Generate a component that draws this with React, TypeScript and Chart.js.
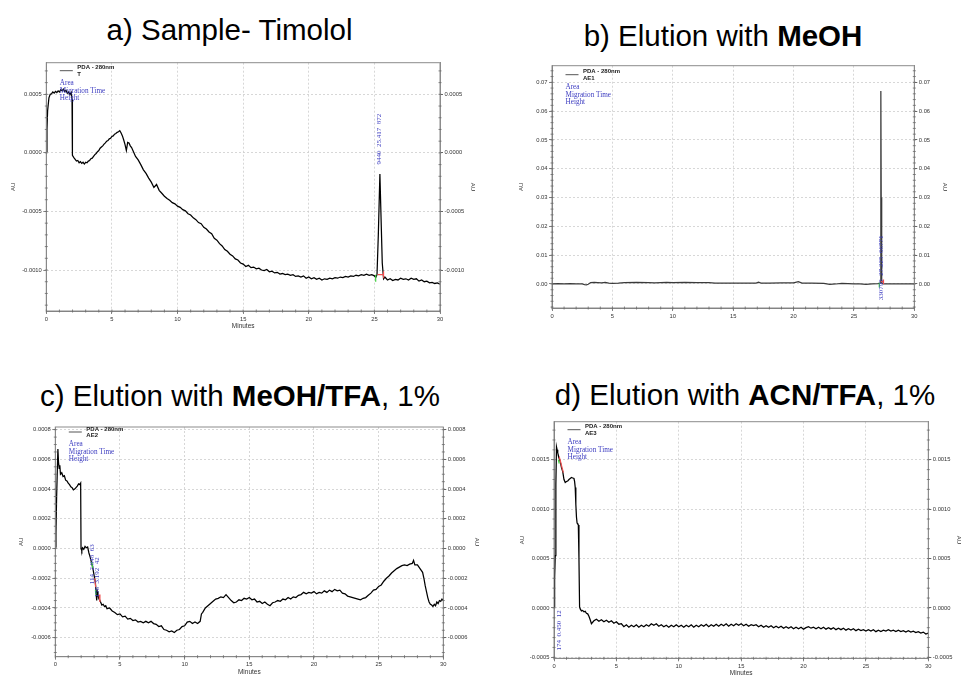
import React, { useEffect, useRef } from "react";
import { Chart, registerables } from "chart.js";

Chart.register(...registerables);
Chart.defaults.font.family = "'Liberation Sans', Arial, sans-serif";

type Pt = [number, number];

// ---------------- DATA ----------------
const minuteTicks = [0, 5, 10, 15, 20, 25, 30];

// a) Sample - Timolol  [minutes, AU]
const traceA: Pt[] = [
  [0, 0.1e-4], [0.05, 2.0e-4], [0.1, 3.6e-4], [0.2, 4.7e-4], [0.3, 5.0e-4], [0.4, 5.05e-4], [0.5, 5.2e-4],
  [0.6, 5.1e-4], [0.7, 5.25e-4], [0.8, 5.15e-4], [0.9, 5.3e-4], [1.0, 5.2e-4], [1.1, 5.4e-4], [1.2, 5.3e-4],
  [1.3, 5.45e-4], [1.4, 5.25e-4], [1.5, 5.35e-4], [1.6, 5.1e-4], [1.7, 5.2e-4], [1.8, 4.95e-4], [1.9, 5.15e-4],
  [1.96, 4.6e-4], [1.99, -0.2e-4], [2.1, -0.4e-4], [2.2, -0.55e-4], [2.3, -0.7e-4], [2.4, -0.65e-4], [2.5, -0.85e-4],
  [2.6, -0.75e-4], [2.7, -0.9e-4], [2.8, -0.8e-4], [2.9, -0.95e-4], [3.0, -0.8e-4], [3.1, -0.85e-4], [3.2, -0.7e-4],
  [3.3, -0.65e-4], [3.4, -0.5e-4], [3.5, -0.45e-4], [3.6, -0.3e-4], [3.7, -0.15e-4], [3.8, -0.05e-4], [3.9, 0.1e-4],
  [4.0, 0.2e-4], [4.1, 0.4e-4], [4.2, 0.5e-4], [4.3, 0.6e-4], [4.4, 0.75e-4], [4.5, 0.85e-4], [4.6, 1.0e-4],
  [4.7, 1.05e-4], [4.8, 1.2e-4], [4.9, 1.25e-4], [5.0, 1.4e-4], [5.1, 1.45e-4], [5.2, 1.6e-4], [5.3, 1.65e-4],
  [5.4, 1.75e-4], [5.5, 1.8e-4], [5.6, 1.9e-4], [5.7, 1.7e-4], [5.8, 1.45e-4], [5.9, 1.1e-4], [6.0, 0.7e-4],
  [6.1, 0.2e-4], [6.2, 0.9e-4], [6.3, 0.85e-4], [6.4, 0.6e-4], [6.5, 0.45e-4], [6.6, 0.2e-4], [6.8, -0.3e-4],
  [7.0, -0.6e-4], [7.2, -1.0e-4], [7.4, -1.45e-4], [7.6, -1.75e-4], [7.8, -2.15e-4], [8.0, -2.5e-4], [8.2, -2.95e-4],
  [8.4, -2.7e-4], [8.6, -3.2e-4], [8.8, -3.45e-4], [9.0, -3.7e-4], [9.2, -3.9e-4], [9.4, -4.05e-4], [9.6, -4.25e-4],
  [9.8, -4.35e-4], [10.0, -4.55e-4], [10.2, -4.65e-4], [10.4, -4.85e-4], [10.6, -4.95e-4], [10.8, -5.2e-4],
  [11.0, -5.3e-4], [11.2, -5.55e-4], [11.4, -5.7e-4], [11.6, -5.95e-4], [11.8, -6.05e-4], [12.0, -6.35e-4],
  [12.2, -6.5e-4], [12.4, -6.75e-4], [12.6, -6.9e-4], [12.8, -7.3e-4], [13.0, -7.45e-4], [13.2, -7.75e-4],
  [13.4, -7.95e-4], [13.6, -8.25e-4], [13.8, -8.4e-4], [14.0, -8.65e-4], [14.2, -8.8e-4], [14.4, -9.05e-4],
  [14.6, -9.15e-4], [14.8, -9.4e-4], [15.0, -9.5e-4], [15.2, -9.7e-4], [15.4, -9.6e-4], [15.6, -9.8e-4],
  [15.8, -9.75e-4], [16.0, -9.9e-4], [16.2, -9.85e-4], [16.4, -10.0e-4], [16.6, -10.05e-4], [16.8, -9.95e-4],
  [17.0, -10.15e-4], [17.2, -10.1e-4], [17.4, -10.25e-4], [17.6, -10.2e-4], [17.8, -10.35e-4], [18.0, -10.3e-4],
  [18.2, -10.4e-4], [18.4, -10.35e-4], [18.6, -10.45e-4], [18.8, -10.4e-4], [19.0, -10.55e-4], [19.2, -10.5e-4],
  [19.4, -10.6e-4], [19.6, -10.5e-4], [19.8, -10.7e-4], [20.0, -10.6e-4], [20.2, -10.75e-4], [20.4, -10.65e-4],
  [20.6, -10.8e-4], [20.8, -10.7e-4], [21.0, -10.85e-4], [21.2, -10.75e-4], [21.4, -10.8e-4], [21.6, -10.7e-4],
  [21.8, -10.75e-4], [22.0, -10.65e-4], [22.2, -10.7e-4], [22.4, -10.6e-4], [22.6, -10.65e-4], [22.8, -10.55e-4],
  [23.0, -10.6e-4], [23.2, -10.5e-4], [23.4, -10.55e-4], [23.6, -10.45e-4], [23.8, -10.5e-4], [24.0, -10.4e-4],
  [24.2, -10.45e-4], [24.4, -10.35e-4], [24.6, -10.45e-4], [24.8, -10.4e-4], [25.0, -10.5e-4], [25.1, -10.65e-4],
  [25.2, -10.4e-4], [25.3, -7.0e-4], [25.42, -1.8e-4], [25.5, -5.2e-4], [25.6, -9.4e-4], [25.7, -10.75e-4],
  [25.8, -10.6e-4], [26.0, -10.85e-4], [26.2, -10.75e-4], [26.4, -10.9e-4], [26.6, -10.8e-4], [26.8, -10.85e-4],
  [27.0, -10.7e-4], [27.2, -10.8e-4], [27.4, -10.75e-4], [27.6, -10.85e-4], [27.8, -10.7e-4], [28.0, -10.8e-4],
  [28.2, -10.75e-4], [28.4, -10.95e-4], [28.6, -10.85e-4], [28.8, -11.0e-4], [29.0, -10.95e-4], [29.2, -11.1e-4],
  [29.4, -11.05e-4], [29.6, -11.15e-4], [29.8, -11.1e-4], [30.0, -11.2e-4],
];
const yTicksA = [-0.001, -0.0005, 0, 0.0005];
const greenA: Pt[] = [[25.1, -10.4e-4], [25.1, -11.0e-4]];
const redA: Pt[] = [[25.25, -10.4e-4], [25.7, -10.4e-4], [25.7, -10.1e-4], [25.7, -10.7e-4]];
const peakTextA = "9440  25.417  872";

// b) Elution with MeOH
const traceB: Pt[] = [
  [0, 0], [0.5, 0.0001], [1, 0], [1.5, 0.0001], [2, 0], [2.5, 0], [2.7, -0.0002], [2.85, -0.0003], [3.0, -0.0001],
  [3.2, 0.0005], [3.5, 0.0006], [3.8, 0.0005], [4.1, 0.0004], [4.4, 0.0006], [4.7, 0.0003], [5.0, 0.0002],
  [5.5, 0.0003], [6, 0.0005], [7, 0.0006], [8, 0.0005], [8.5, 0.0004], [9, 0.0005], [9.5, 0.0006], [10, 0.0005],
  [11, 0.0006], [12, 0.0005], [13, 0.0005], [13.5, 0.0003], [14, 0.0003], [15, 0.0003], [16, 0.0003],
  [16.9, 0.0003], [17.1, 0.0006], [17.3, 0.0003], [18, 0.0003], [19, 0.0004], [20, 0.0004], [20.4, 0.0008],
  [20.7, 0.0003], [21.5, 0.0003], [22.5, 0.0002], [23, -0.0001], [23.5, 0.0], [24, 0.0002], [24.5, 0.0001],
  [25, 0.0], [25.5, 0.0], [26, -0.0001], [26.5, 0.0], [27.0, 0.0001], [27.18, 0.0003], [27.22, 0.03],
  [27.24, 0.067], [27.26, 0.03], [27.3, 0.0006], [27.4, 0.0], [28, 0.0], [29, 0.0], [30, 0.0],
];
const yTicksB = [0, 0.01, 0.02, 0.03, 0.04, 0.05, 0.06, 0.07];
const greenB: Pt[] = [[27.1, 0.0004], [27.1, -0.0012]];
const redB: Pt[] = [[27.25, 0.0008], [27.45, 0.0008], [27.45, 0.0016], [27.45, 0.0]];
const peakTextB = "330795  27.225  66771";

// c) Elution with MeOH/TFA, 1%
const traceC: Pt[] = [
  [0, 0.1e-4], [0.05, 1.0e-4], [0.1, 3.4e-4], [0.2, 6.7e-4], [0.25, 5.8e-4], [0.3, 5.4e-4], [0.35, 5.6e-4],
  [0.4, 5.0e-4], [0.5, 5.1e-4], [0.6, 4.85e-4], [0.7, 4.9e-4], [0.8, 4.6e-4], [0.9, 4.55e-4], [1.0, 4.4e-4],
  [1.1, 4.3e-4], [1.2, 4.15e-4], [1.3, 4.1e-4], [1.4, 3.95e-4], [1.5, 4.0e-4], [1.6, 4.1e-4], [1.7, 4.2e-4],
  [1.8, 4.35e-4], [1.9, 4.3e-4], [1.96, 4.4e-4], [1.99, 0.0], [2.05, -0.15e-4], [2.1, 0.05e-4], [2.2, -0.05e-4],
  [2.3, 0.15e-4], [2.4, 0.05e-4], [2.5, 0.1e-4], [2.6, -0.3e-4], [2.7, -0.6e-4], [2.8, -0.95e-4], [2.9, -1.3e-4],
  [3.0, -1.8e-4], [3.1, -2.3e-4], [3.15, -2.9e-4], [3.2, -3.5e-4], [3.25, -2.9e-4], [3.3, -3.1e-4], [3.4, -3.4e-4],
  [3.5, -3.6e-4], [3.6, -3.8e-4], [3.7, -3.75e-4], [3.8, -3.9e-4], [3.9, -3.85e-4], [4.0, -4.05e-4], [4.2, -4.0e-4],
  [4.4, -4.2e-4], [4.6, -4.3e-4], [4.8, -4.45e-4], [5.0, -4.4e-4], [5.2, -4.6e-4], [5.4, -4.55e-4], [5.6, -4.75e-4],
  [5.8, -4.7e-4], [6.0, -4.85e-4], [6.2, -4.8e-4], [6.4, -4.95e-4], [6.6, -4.9e-4], [6.8, -5.0e-4], [7.0, -4.9e-4],
  [7.2, -5.0e-4], [7.4, -4.9e-4], [7.6, -5.05e-4], [7.8, -5.1e-4], [8.0, -5.25e-4], [8.2, -5.2e-4], [8.4, -5.45e-4],
  [8.6, -5.5e-4], [8.8, -5.6e-4], [9.0, -5.55e-4], [9.2, -5.65e-4], [9.4, -5.5e-4], [9.6, -5.45e-4], [9.8, -5.25e-4],
  [10.0, -5.2e-4], [10.2, -4.95e-4], [10.4, -4.9e-4], [10.6, -5.05e-4], [10.8, -4.95e-4], [11.0, -5.05e-4],
  [11.2, -4.9e-4], [11.3, -4.4e-4], [11.4, -4.3e-4], [11.6, -4.0e-4], [11.8, -3.85e-4], [12.0, -3.7e-4],
  [12.2, -3.55e-4], [12.4, -3.4e-4], [12.6, -3.35e-4], [12.8, -3.25e-4], [13.0, -3.3e-4], [13.2, -3.1e-4],
  [13.4, -3.3e-4], [13.6, -3.5e-4], [13.8, -3.65e-4], [14.0, -3.6e-4], [14.2, -3.45e-4], [14.4, -3.5e-4],
  [14.6, -3.35e-4], [14.8, -3.4e-4], [15.0, -3.3e-4], [15.2, -3.45e-4], [15.4, -3.4e-4], [15.6, -3.6e-4],
  [15.8, -3.55e-4], [16.0, -3.7e-4], [16.2, -3.6e-4], [16.4, -3.75e-4], [16.6, -3.85e-4], [16.8, -3.65e-4],
  [17.0, -3.6e-4], [17.2, -3.5e-4], [17.4, -3.55e-4], [17.6, -3.4e-4], [17.8, -3.45e-4], [18.0, -3.3e-4],
  [18.2, -3.4e-4], [18.4, -3.25e-4], [18.6, -3.3e-4], [18.8, -3.15e-4], [19.0, -3.1e-4], [19.2, -2.95e-4],
  [19.4, -3.05e-4], [19.6, -2.95e-4], [19.8, -3.0e-4], [20.0, -2.9e-4], [20.2, -3.05e-4], [20.4, -2.95e-4],
  [20.6, -3.0e-4], [20.8, -2.85e-4], [21.0, -2.95e-4], [21.2, -2.8e-4], [21.4, -2.9e-4], [21.6, -2.75e-4],
  [21.8, -2.85e-4], [22.0, -2.8e-4], [22.2, -3.0e-4], [22.4, -3.05e-4], [22.6, -3.2e-4], [22.8, -3.25e-4],
  [23.0, -3.3e-4], [23.2, -3.35e-4], [23.4, -3.4e-4], [23.6, -3.45e-4], [23.8, -3.35e-4], [24.0, -3.3e-4],
  [24.2, -3.15e-4], [24.4, -3.0e-4], [24.6, -2.8e-4], [24.8, -2.75e-4], [25.0, -2.55e-4], [25.2, -2.45e-4],
  [25.4, -2.2e-4], [25.6, -2.0e-4], [25.8, -1.85e-4], [26.0, -1.65e-4], [26.2, -1.5e-4], [26.4, -1.35e-4],
  [26.6, -1.25e-4], [26.8, -1.15e-4], [27.0, -1.1e-4], [27.2, -1.15e-4], [27.4, -1.05e-4], [27.6, -1.0e-4],
  [27.7, -0.8e-4], [27.8, -1.1e-4], [28.0, -1.1e-4], [28.2, -1.35e-4], [28.4, -1.6e-4], [28.5, -2.0e-4],
  [28.6, -2.5e-4], [28.7, -2.9e-4], [28.8, -3.3e-4], [28.9, -3.6e-4], [29.0, -3.75e-4], [29.1, -3.8e-4],
  [29.2, -3.9e-4], [29.3, -3.75e-4], [29.4, -3.85e-4], [29.5, -3.6e-4], [29.6, -3.7e-4], [29.7, -3.5e-4],
  [29.8, -3.55e-4], [29.9, -3.4e-4], [30.0, -3.5e-4],
];
const yTicksC = [-0.0006, -0.0004, -0.0002, 0, 0.0002, 0.0004, 0.0006, 0.0008];
const greenC1: Pt[] = [[2.8, -0.9e-4], [2.9, -1.3e-4]];
const redC1: Pt[] = [[3.05, -2.0e-4], [3.12, -2.6e-4]];
const greenC2: Pt[] = [[3.1, -2.8e-4], [3.15, -3.1e-4]];
const redC2: Pt[] = [[3.38, -3.1e-4], [3.45, -3.6e-4]];
const peakTextC1 = "114  2.848  63";
const peakTextC2 = "156  3.192  42";

// d) Elution with ACN/TFA, 1%
const traceD: Pt[] = [
  [0, 0.1e-4], [0.05, 3.0e-4], [0.1, 5.3e-4], [0.15, 12.5e-4], [0.2, 16.3e-4], [0.25, 16.0e-4], [0.3, 15.7e-4],
  [0.4, 15.2e-4], [0.5, 14.8e-4], [0.6, 14.2e-4], [0.7, 13.8e-4], [0.8, 13.0e-4], [0.9, 12.7e-4], [1.0, 12.8e-4],
  [1.1, 12.85e-4], [1.2, 13.0e-4], [1.3, 13.1e-4], [1.4, 13.2e-4], [1.5, 13.15e-4], [1.6, 13.1e-4], [1.65, 12.8e-4],
  [1.7, 12.2e-4], [1.75, 10.5e-4], [1.8, 9.2e-4], [1.85, 8.6e-4], [1.9, 8.5e-4], [1.95, 8.4e-4], [2.0, 5.0e-4],
  [2.05, 0.1e-4], [2.1, -0.1e-4], [2.2, -0.3e-4], [2.3, -0.25e-4], [2.4, -0.4e-4], [2.5, -0.35e-4], [2.6, -0.55e-4],
  [2.7, -0.6e-4], [2.8, -0.85e-4], [2.9, -1.2e-4], [3.0, -1.6e-4], [3.2, -1.3e-4], [3.4, -1.15e-4], [3.6, -1.35e-4],
  [3.8, -1.2e-4], [4.0, -1.4e-4], [4.2, -1.25e-4], [4.4, -1.45e-4], [4.6, -1.3e-4], [4.8, -1.55e-4], [5.0, -1.4e-4],
  [5.2, -1.65e-4], [5.4, -1.6e-4], [5.6, -1.9e-4], [5.8, -1.7e-4], [6.0, -1.95e-4], [6.2, -1.75e-4], [6.4, -1.9e-4],
  [6.6, -1.7e-4], [6.8, -1.95e-4], [7.0, -1.75e-4], [7.2, -1.9e-4], [7.4, -1.7e-4], [7.6, -1.85e-4], [7.8, -1.6e-4],
  [8.0, -1.75e-4], [8.2, -1.6e-4], [8.4, -1.85e-4], [8.6, -1.7e-4], [8.8, -1.9e-4], [9.0, -1.75e-4], [9.2, -1.95e-4],
  [9.4, -1.75e-4], [9.6, -1.9e-4], [9.8, -1.7e-4], [10.0, -1.9e-4], [10.2, -1.75e-4], [10.4, -1.95e-4],
  [10.6, -1.75e-4], [10.8, -1.9e-4], [11.0, -1.7e-4], [11.2, -1.95e-4], [11.4, -1.75e-4], [11.6, -1.9e-4],
  [11.8, -1.7e-4], [12.0, -1.85e-4], [12.2, -1.65e-4], [12.4, -1.9e-4], [12.6, -1.7e-4], [12.8, -1.85e-4],
  [13.0, -1.65e-4], [13.2, -1.85e-4], [13.4, -1.65e-4], [13.6, -1.8e-4], [13.8, -1.6e-4], [14.0, -1.85e-4],
  [14.2, -1.65e-4], [14.4, -1.8e-4], [14.6, -1.6e-4], [14.8, -1.75e-4], [15.0, -1.6e-4], [15.2, -1.8e-4],
  [15.4, -1.65e-4], [15.6, -1.85e-4], [15.8, -1.7e-4], [16.0, -1.8e-4], [16.2, -1.7e-4], [16.4, -1.9e-4],
  [16.6, -1.75e-4], [16.8, -1.95e-4], [17.0, -1.8e-4], [17.2, -1.95e-4], [17.4, -1.8e-4], [17.6, -2.0e-4],
  [17.8, -1.85e-4], [18.0, -2.0e-4], [18.2, -1.85e-4], [18.4, -2.05e-4], [18.6, -1.9e-4], [18.8, -2.05e-4],
  [19.0, -1.9e-4], [19.2, -2.1e-4], [19.4, -1.95e-4], [19.6, -2.1e-4], [19.8, -1.95e-4], [20.0, -2.15e-4],
  [20.2, -2.0e-4], [20.4, -1.9e-4], [20.6, -2.05e-4], [20.8, -1.95e-4], [21.0, -2.1e-4], [21.2, -1.95e-4],
  [21.4, -2.1e-4], [21.6, -1.95e-4], [21.8, -2.15e-4], [22.0, -2.0e-4], [22.2, -2.15e-4], [22.4, -2.0e-4],
  [22.6, -2.2e-4], [22.8, -2.05e-4], [23.0, -2.2e-4], [23.2, -2.05e-4], [23.4, -2.25e-4], [23.6, -2.1e-4],
  [23.8, -2.25e-4], [24.0, -2.1e-4], [24.2, -2.3e-4], [24.4, -2.15e-4], [24.6, -2.3e-4], [24.8, -2.2e-4],
  [25.0, -2.35e-4], [25.2, -2.2e-4], [25.4, -2.35e-4], [25.6, -2.2e-4], [25.8, -2.4e-4], [26.0, -2.25e-4],
  [26.2, -2.4e-4], [26.4, -2.25e-4], [26.6, -2.35e-4], [26.8, -2.2e-4], [27.0, -2.35e-4], [27.2, -2.25e-4],
  [27.4, -2.4e-4], [27.6, -2.25e-4], [27.8, -2.4e-4], [28.0, -2.3e-4], [28.2, -2.45e-4], [28.4, -2.3e-4],
  [28.6, -2.45e-4], [28.8, -2.35e-4], [29.0, -2.5e-4], [29.2, -2.4e-4], [29.4, -2.55e-4], [29.6, -2.45e-4],
  [29.8, -2.65e-4], [30.0, -2.55e-4],
];
const yTicksD = [-0.0005, 0, 0.0005, 0.001, 0.0015];
const greenD: Pt[] = [[0.35, 15.0e-4], [0.42, 14.6e-4]];
const redD: Pt[] = [[0.42, 15.3e-4], [0.75, 13.7e-4]];
const peakTextD = "174  0.450  12";

const titles = {
  a: ["a) Sample- Timolol", ""],
  b: ["b) Elution with ", "MeOH", ""],
  c: ["c) Elution with ", "MeOH/TFA", ", 1%"],
  d: ["d) Elution with ", "ACN/TFA", ", 1%"],
};

// ---------------- LAYOUT / STYLE ----------------
type Marker = { color: string; pts: Pt[] };
type Peak = { t: number; v: number; text: string };
type PanelCfg = {
  left: number; top: number; width: number; height: number;
  padTop: number; leftW: number; rightW: number; bottomH: number;
  yMin: number; yMax: number; yTicks: number[]; decimals: number; minorY: number;
  auLeftPad: number; auRightPad: number; showMinutes: boolean; minutesPad: number;
  legendDy: number; seriesId: string; trace: Pt[]; lineColor: string;
  markers: Marker[]; peaks: Peak[];
};

const GREEN = "#3fd23f";
const RED = "#f05050";

const panels: PanelCfg[] = [
  {
    left: 0, top: 55, width: 480, height: 280, padTop: 7.7, leftW: 46.3, rightW: 40, bottomH: 24,
    yMin: -0.00135, yMax: 0.00077, yTicks: yTicksA, decimals: 4, minorY: 0.0001,
    auLeftPad: 9.4, auRightPad: 3.4, showMinutes: true, minutesPad: 4.4, legendDy: 0,
    seriesId: "T", trace: traceA, lineColor: "#000",
    markers: [{ color: GREEN, pts: greenA }, { color: RED, pts: redA }],
    peaks: [{ t: 25.36, v: -0.0001, text: peakTextA }],
  },
  {
    left: 490, top: 55, width: 472, height: 270, padTop: 10.7, leftW: 62, rightW: 47.7, bottomH: 17,
    yMin: -0.00833, yMax: 0.07576, yTicks: yTicksB, decimals: 2, minorY: 0.002,
    auLeftPad: 28, auRightPad: 13.4, showMinutes: false, minutesPad: 0, legendDy: 1,
    seriesId: "AE1", trace: traceB, lineColor: "#3a3a3a",
    markers: [{ color: GREEN, pts: greenB }, { color: RED, pts: redB }],
    peaks: [{ t: 27.24, v: -0.0056, text: peakTextB }],
  },
  {
    left: 0, top: 420, width: 482, height: 258, padTop: 7, leftW: 55.3, rightW: 38.7, bottomH: 21.3,
    yMin: -0.000728, yMax: 0.000818, yTicks: yTicksC, decimals: 4, minorY: 0.00005,
    auLeftPad: 18, auRightPad: 1.4, showMinutes: true, minutesPad: 1.4, legendDy: -3,
    seriesId: "AE2", trace: traceC, lineColor: "#000",
    markers: [
      { color: GREEN, pts: greenC1 }, { color: RED, pts: redC1 },
      { color: GREEN, pts: greenC2 }, { color: RED, pts: redC2 },
    ],
    peaks: [
      { t: 2.84, v: -0.00024, text: peakTextC1 },
      { t: 3.22, v: -0.00033, text: peakTextC2 },
    ],
  },
  {
    left: 490, top: 415, width: 472, height: 263, padTop: 6.7, leftW: 64, rightW: 33.7, bottomH: 19.7,
    yMin: -0.00051, yMax: 0.001885, yTicks: yTicksD, decimals: 4, minorY: 0.0001,
    auLeftPad: 28.4, auRightPad: 0, showMinutes: true, minutesPad: 0.4, legendDy: 0,
    seriesId: "AE3", trace: traceD, lineColor: "#000",
    markers: [{ color: GREEN, pts: greenD }, { color: RED, pts: redD }],
    peaks: [{ t: 0.4, v: -0.00043, text: peakTextD }],
  },
];

const TICK_FONT = 5.8;
const ANNOT_BLUE = "#3c3cc0";

function makeDecor(c: PanelCfg) {
  return {
    id: "decor",
    afterDatasetsDraw(chart: any) {
      const { ctx, chartArea: a, scales } = chart;
      const xs = scales.x;
      const ys = scales.y;
      ctx.save();
      // frame
      ctx.strokeStyle = "#8c8c8c";
      ctx.lineWidth = 1;
      ctx.setLineDash([]);
      ctx.strokeRect(a.left, a.top, a.right - a.left, a.bottom - a.top);
      // minor ticks
      ctx.strokeStyle = "#6a6a6a";
      ctx.lineWidth = 0.8;
      ctx.beginPath();
      const k0 = Math.ceil(c.yMin / c.minorY - 1e-6);
      const k1 = Math.floor(c.yMax / c.minorY + 1e-6);
      for (let k = k0; k <= k1; k++) {
        const y = ys.getPixelForValue(k * c.minorY);
        ctx.moveTo(a.left - 1.5, y); ctx.lineTo(a.left + 1.5, y);
        ctx.moveTo(a.right - 1.5, y); ctx.lineTo(a.right + 1.5, y);
      }
      for (let m = 0; m <= 30; m++) {
        const x = xs.getPixelForValue(m);
        ctx.moveTo(x, a.bottom - 1.5); ctx.lineTo(x, a.bottom + 1.5);
      }
      ctx.stroke();
      // legend
      const lx = a.left, ly = a.top + c.legendDy;
      ctx.strokeStyle = "#555";
      ctx.lineWidth = 1;
      ctx.beginPath();
      ctx.moveTo(lx + 13.5, ly + 8); ctx.lineTo(lx + 26.5, ly + 8);
      ctx.stroke();
      ctx.fillStyle = "#222";
      ctx.font = "bold 6px 'Liberation Sans', Arial, sans-serif";
      ctx.textAlign = "left";
      ctx.textBaseline = "middle";
      ctx.fillText("PDA - 280nm", lx + 31, ly + 5);
      ctx.fillText(c.seriesId, lx + 31, ly + 11.5);
      ctx.fillStyle = ANNOT_BLUE;
      ctx.font = "7.2px 'Liberation Serif', 'Times New Roman', serif";
      ctx.fillText("Area", lx + 13.5, ly + 20);
      ctx.fillText("Migration Time", lx + 13.5, ly + 28);
      ctx.fillText("Height", lx + 13.5, ly + 35.5);
      // peak labels (vertical)
      ctx.font = "7px 'Liberation Serif', 'Times New Roman', serif";
      for (const p of c.peaks) {
        const x = xs.getPixelForValue(p.t);
        const y = ys.getPixelForValue(p.v);
        ctx.save();
        ctx.translate(x, y);
        ctx.rotate(-Math.PI / 2);
        ctx.textAlign = "left";
        ctx.textBaseline = "middle";
        ctx.fillText(p.text, 0, 0);
        ctx.restore();
      }
      ctx.restore();
    },
  };
}

function Panel({ c }: { c: PanelCfg }) {
  const ref = useRef<HTMLCanvasElement | null>(null);
  useEffect(() => {
    if (!ref.current) return;
    const datasets: any[] = [
      {
        data: c.trace.map(([x, y]) => ({ x, y })),
        borderColor: c.lineColor,
        borderWidth: 1.25,
        pointRadius: 0,
        tension: 0,
        xAxisID: "x",
        yAxisID: "y",
        order: 2,
      },
      ...c.markers.map((m) => ({
        data: m.pts.map(([x, y]) => ({ x, y })),
        borderColor: m.color,
        borderWidth: 1.2,
        pointRadius: 0,
        tension: 0,
        xAxisID: "x",
        yAxisID: "y",
        order: 1,
      })),
    ];
    const yTickCfg = {
      font: { size: TICK_FONT },
      color: "#333",
      padding: 1.5,
      autoSkip: false,
      callback: (v: any) => Number(v).toFixed(c.decimals),
    };
    const setYTicks = (s: any) => {
      s.ticks = c.yTicks.map((v) => ({ value: v }));
    };
    const chart = new Chart(ref.current, {
      type: "line",
      data: { datasets },
      options: {
        animation: false,
        responsive: false,
        maintainAspectRatio: false,
        layout: { padding: { top: c.padTop, left: 0, right: 0, bottom: 0 } },
        plugins: { legend: { display: false }, tooltip: { enabled: false } },
        scales: {
          x: {
            type: "linear",
            min: 0,
            max: 30,
            afterBuildTicks: (s: any) => {
              s.ticks = minuteTicks.map((v) => ({ value: v }));
            },
            afterFit: (s: any) => {
              s.height = c.bottomH;
            },
            ticks: {
              font: { size: TICK_FONT },
              color: "#333",
              padding: 1.5,
              maxRotation: 0,
              autoSkip: false,
              callback: (v: any) => String(v),
            },
            grid: { color: "#cdcdcd", lineWidth: 0.8, tickLength: 3, tickColor: "#666", drawTicks: true },
            border: { color: "#7a7a7a", width: 1, dash: [2, 2] },
            title: {
              display: c.showMinutes,
              text: "Minutes",
              font: { size: 6.5 },
              color: "#333",
              padding: { top: 0, bottom: c.minutesPad },
            },
          },
          y: {
            type: "linear",
            position: "left",
            min: c.yMin,
            max: c.yMax,
            afterBuildTicks: setYTicks,
            afterFit: (s: any) => {
              s.width = c.leftW;
            },
            ticks: yTickCfg,
            grid: { color: "#cdcdcd", lineWidth: 0.8, tickLength: 3, tickColor: "#666", drawTicks: true },
            border: { color: "#7a7a7a", width: 1, dash: [2, 2] },
            title: {
              display: true,
              text: "AU",
              font: { size: 6 },
              color: "#333",
              padding: { top: c.auLeftPad, bottom: 0 },
            },
          },
          y2: {
            type: "linear",
            position: "right",
            min: c.yMin,
            max: c.yMax,
            afterBuildTicks: setYTicks,
            afterFit: (s: any) => {
              s.width = c.rightW;
            },
            ticks: yTickCfg,
            grid: { drawOnChartArea: false, tickLength: 3, tickColor: "#666", drawTicks: true },
            border: { color: "#8c8c8c", width: 1 },
            title: {
              display: true,
              text: "AU",
              font: { size: 6 },
              color: "#333",
              padding: { top: c.auRightPad, bottom: 0 },
            },
          },
        },
      } as any,
      plugins: [makeDecor(c)],
    });
    return () => chart.destroy();
  }, [c]);
  return (
    <canvas
      ref={ref}
      width={c.width}
      height={c.height}
      style={{ position: "absolute", left: c.left, top: c.top, width: c.width, height: c.height }}
    />
  );
}

const titlePos = [
  { key: "a", x: 229.5, y: 39.7 },
  { key: "b", x: 723, y: 45.5 },
  { key: "c", x: 240, y: 405.7 },
  { key: "d", x: 745, y: 405 },
];

export default function App() {
  return (
    <div
      style={{
        position: "absolute",
        left: 0,
        top: 0,
        width: 962,
        height: 678,
        background: "#fff",
        overflow: "hidden",
      }}
    >
      <svg width={962} height={678} style={{ position: "absolute", left: 0, top: 0 }}>
        {titlePos.map((p) => {
          const t = (titles as any)[p.key] as string[];
          return (
            <text
              key={p.key}
              x={p.x}
              y={p.y}
              textAnchor="middle"
              fontFamily="'Liberation Sans', Arial, sans-serif"
              fontSize={29.5}
              fill="#000"
            >
              {t[0]}
              {t[1] ? <tspan fontWeight="bold">{t[1]}</tspan> : null}
              {t[2] ? t[2] : null}
            </text>
          );
        })}
      </svg>
      {panels.map((c, i) => (
        <Panel key={i} c={c} />
      ))}
    </div>
  );
}
